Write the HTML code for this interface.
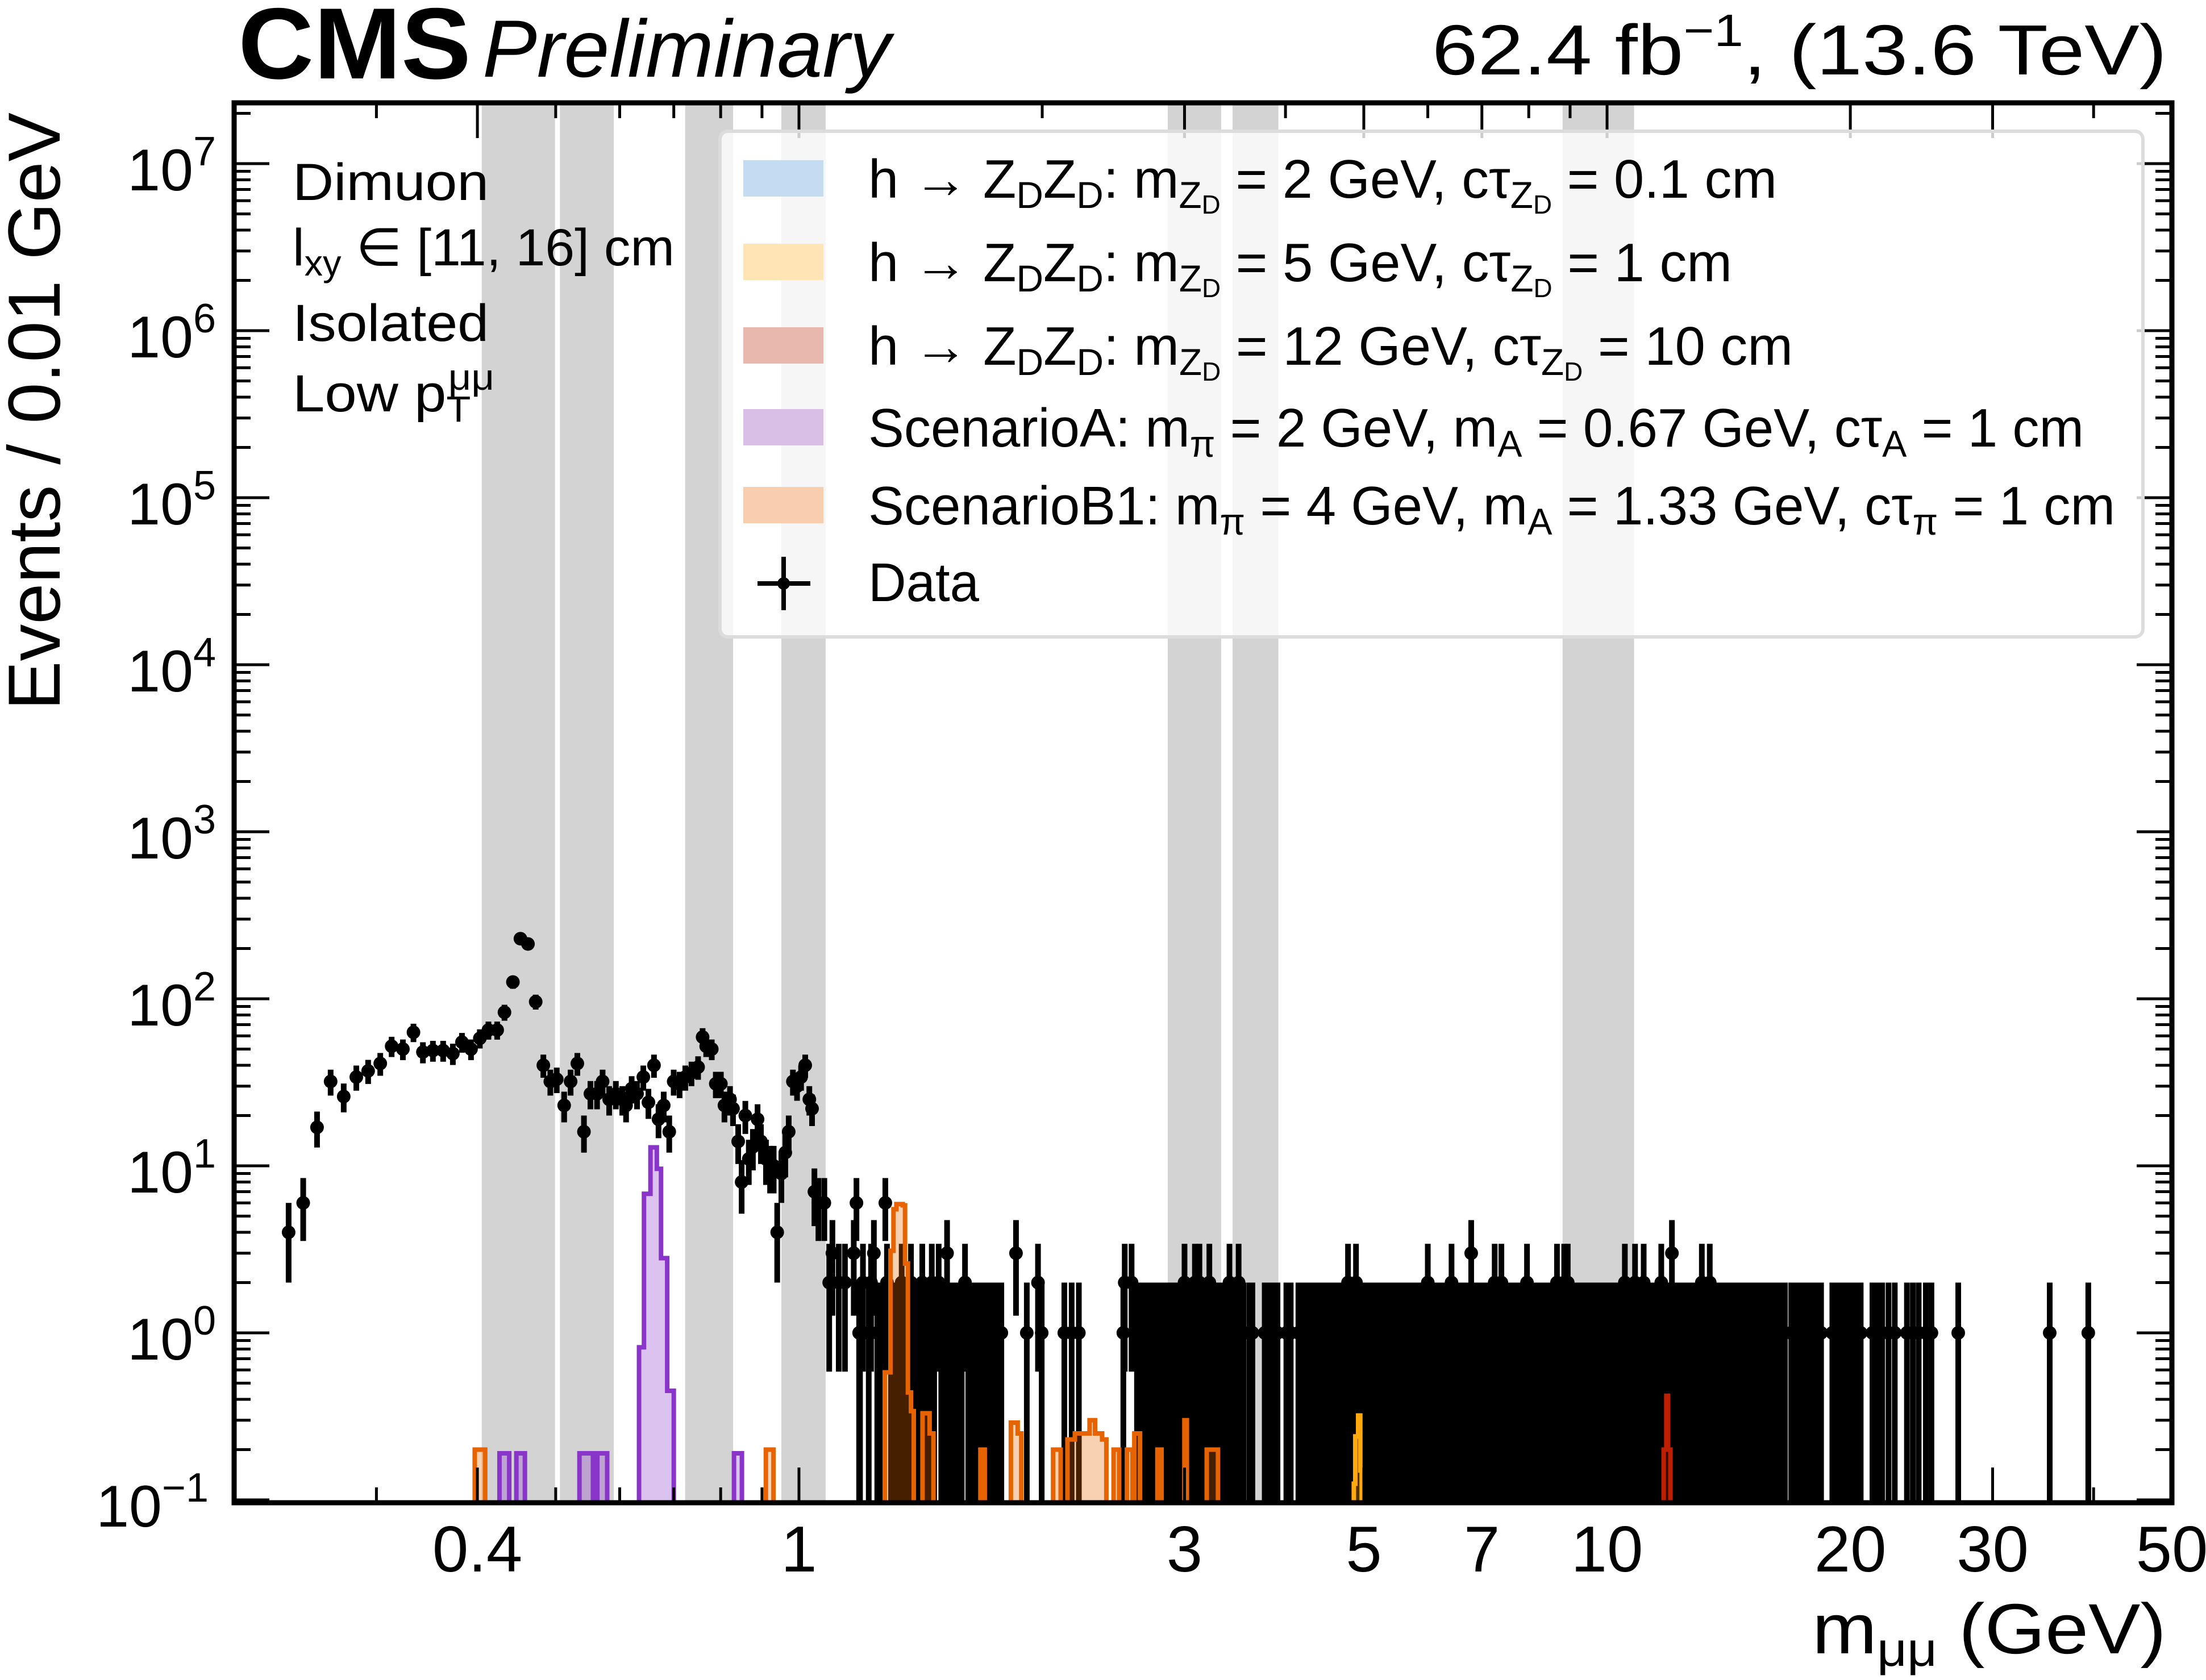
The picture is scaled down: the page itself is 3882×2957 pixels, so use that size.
<!DOCTYPE html>
<html><head><meta charset="utf-8"><title>CMS dimuon mass</title>
<style>
html,body{margin:0;padding:0;background:#fff;}
svg{display:block;font-family:"Liberation Sans",sans-serif;}
</style></head>
<body>
<svg id="chart" width="3882" height="2957" viewBox="0 0 3882 2957" xmlns="http://www.w3.org/2000/svg">
<g id="bands"></g>
<g id="datag"></g>
<g id="sigg"></g>
<g id="ticks"></g>
<rect x="412" y="181" width="3410" height="2464" fill="none" stroke="#000" stroke-width="9"/>

<g>
<rect x="1267" y="231" width="2504" height="890" rx="14" fill="rgba(255,255,255,0.8)" stroke="#dcdcdc" stroke-width="6"/>
<g>
<rect x="1308" y="282" width="141" height="64" fill="#c4dbf2"/>
<text x="1528" y="348" font-size="96" textLength="1599" lengthAdjust="spacingAndGlyphs">h → Z<tspan dy="18" font-size="66">D</tspan><tspan dy="-18">Z</tspan><tspan dy="18" font-size="66">D</tspan><tspan dy="-18">: m</tspan><tspan dy="18" font-size="66">Z</tspan><tspan dy="10" font-size="46">D</tspan><tspan dy="-28"> = 2 GeV, cτ</tspan><tspan dy="18" font-size="66">Z</tspan><tspan dy="10" font-size="46">D</tspan><tspan dy="-28"> =  0.1 cm</tspan></text>
</g>
<g>
<rect x="1308" y="429" width="141" height="64" fill="#ffe5b5"/>
<text x="1528" y="495" font-size="96" textLength="1520" lengthAdjust="spacingAndGlyphs">h → Z<tspan dy="18" font-size="66">D</tspan><tspan dy="-18">Z</tspan><tspan dy="18" font-size="66">D</tspan><tspan dy="-18">: m</tspan><tspan dy="18" font-size="66">Z</tspan><tspan dy="10" font-size="46">D</tspan><tspan dy="-28"> = 5 GeV, cτ</tspan><tspan dy="18" font-size="66">Z</tspan><tspan dy="10" font-size="46">D</tspan><tspan dy="-28"> =  1 cm</tspan></text>
</g>
<g>
<rect x="1308" y="576" width="141" height="64" fill="#e8b8ae"/>
<text x="1528" y="642" font-size="96" textLength="1627" lengthAdjust="spacingAndGlyphs">h → Z<tspan dy="18" font-size="66">D</tspan><tspan dy="-18">Z</tspan><tspan dy="18" font-size="66">D</tspan><tspan dy="-18">: m</tspan><tspan dy="18" font-size="66">Z</tspan><tspan dy="10" font-size="46">D</tspan><tspan dy="-28"> = 12 GeV, cτ</tspan><tspan dy="18" font-size="66">Z</tspan><tspan dy="10" font-size="46">D</tspan><tspan dy="-28"> =  10 cm</tspan></text>
</g>
<g>
<rect x="1308" y="720" width="141" height="64" fill="#d9bfe6"/>
<text x="1528" y="786" font-size="96" textLength="2139" lengthAdjust="spacingAndGlyphs">ScenarioA: m<tspan dy="18" font-size="66">π</tspan><tspan dy="-18"> = 2 GeV, m</tspan><tspan dy="18" font-size="66">A</tspan><tspan dy="-18"> = 0.67 GeV, cτ</tspan><tspan dy="18" font-size="66">A</tspan><tspan dy="-18"> =  1 cm</tspan></text>
</g>
<g>
<rect x="1308" y="857" width="141" height="64" fill="#f8cdb0"/>
<text x="1528" y="923" font-size="96" textLength="2194" lengthAdjust="spacingAndGlyphs">ScenarioB1: m<tspan dy="18" font-size="66">π</tspan><tspan dy="-18"> = 4 GeV, m</tspan><tspan dy="18" font-size="66">A</tspan><tspan dy="-18"> = 1.33 GeV, cτ</tspan><tspan dy="18" font-size="66">π</tspan><tspan dy="-18"> =  1 cm</tspan></text>
</g>
<g>
<line x1="1333" y1="1027" x2="1426" y2="1027" stroke="#000" stroke-width="8"/>
<line x1="1379" y1="980" x2="1379" y2="1074" stroke="#000" stroke-width="8"/>
<circle cx="1379" cy="1027" r="11" fill="#000"/>
<text x="1528" y="1058" font-size="96" textLength="195" lengthAdjust="spacingAndGlyphs">Data</text>
</g>
</g>

<g font-size="92">
<text x="515" y="352" textLength="345" lengthAdjust="spacingAndGlyphs">Dimuon</text>
<text x="515" y="467" textLength="672" lengthAdjust="spacingAndGlyphs">l<tspan dy="18" font-size="64">xy</tspan><tspan dy="-18"> ∈ [11, 16] cm</tspan></text>
<text x="515" y="600" textLength="345" lengthAdjust="spacingAndGlyphs">Isolated</text>
<text x="515" y="724" textLength="355" lengthAdjust="spacingAndGlyphs">Low p<tspan dy="18" font-size="64">T</tspan><tspan dx="-36" dy="-56" font-size="64">μμ</tspan></text>
</g>

<text x="419" y="138" font-size="178" font-weight="bold" textLength="410" lengthAdjust="spacingAndGlyphs">CMS</text>
<text x="849" y="135" font-size="143" font-style="italic" textLength="718" lengthAdjust="spacingAndGlyphs">Preliminary</text>
<text x="2520" y="131" font-size="125" textLength="1293" lengthAdjust="spacingAndGlyphs">62.4 fb<tspan dy="-50" font-size="80">−1</tspan><tspan dy="50">,  (13.6 TeV)</tspan></text>
<text transform="rotate(-90)" x="-724" y="105" font-size="130" text-anchor="middle" textLength="1052" lengthAdjust="spacingAndGlyphs">Events / 0.01 GeV</text>
<text x="3189" y="2910" font-size="125" textLength="623" lengthAdjust="spacingAndGlyphs">m<tspan dy="22" font-size="84">μμ</tspan><tspan dy="-22"> (GeV)</tspan></text>
<g id="labels"></g>
</svg>

<script>
const bandLo = [0.405, 0.506, 0.723, 0.951, 2.86, 3.44, 8.81];
const bandHi = [0.499, 0.590, 0.829, 1.079, 3.33, 3.92, 10.8];

const dataMass = [
0.2336,0.2435,0.2533,0.2633,0.2733,0.2833,0.293,0.3033,0.3133,0.3235,0.3334,0.3425,0.3524,0.3628,0.373,0.3828,0.3928,0.4028,0.4128,0.4232,
0.4321,0.4426,0.4522,0.462,0.4723,0.4827,0.4924,0.5015,0.5122,0.5217,0.5318,0.5419,0.552,0.5625,0.5715,0.5823,0.5935,0.6044,0.611,0.6208,
0.6304,0.6418,0.6512,0.6616,0.6702,0.6802,0.691,0.6998,0.7117,0.7233,0.7362,0.7502,0.7599,0.7677,0.78,0.789,0.8005,0.8087,0.8216,0.8287,
0.841,0.8493,0.8583,0.8668,0.877,0.8887,0.8973,0.9103,0.921,0.9305,0.9399,0.9511,0.9618,0.9712,0.9829,0.9945,1.006,1.018,1.030,1.038,
1.045,1.057,1.075,1.09,1.10,1.12,1.14,1.169,1.178,1.187,1.20,1.228,1.238,1.256,1.279,1.285,1.30,1.32,1.34,1.36,
1.376,1.39,1.41,1.421,1.44,1.46,1.489,1.50,1.525,1.54,1.56,1.58,1.605,1.63,1.65,1.67,1.69,1.71,1.74,1.76,
1.78,1.856,1.914,1.976,1.997,2.13,2.175,2.22,2.52,2.53,2.58,2.62,2.66,2.70,2.72,2.75,2.78,2.81,2.84,2.88,
2.92,2.97,3.00,3.04,3.09,3.13,3.17,3.22,3.26,3.30,3.34,3.38,3.41,3.45,3.50,3.55,
3.61,3.64,3.77,3.81,3.86,3.91,4.01,4.06,4.15,4.20,4.26,4.31,4.37,4.42,4.47,4.53,4.61,4.67,4.73,4.78,
4.80,4.86,4.89,4.92,4.98,5.05,5.11,5.18,5.23,5.29,5.37,5.43,5.50,5.57,5.63,5.70,5.77,5.84,5.91,5.98,
6.0,6.10,6.18,6.26,6.34,6.42,6.50,6.58,6.67,6.76,6.79,6.85,6.95,7.04,7.14,7.20,7.26,7.29,7.39,7.4,
7.48,7.58,7.70,7.82,7.92,7.96,8.03,8.13,8.24,8.35,8.46,8.57,8.67,8.68,8.80,8.85,8.91,8.94,9.03,9.15,
9.27,9.40,9.52,9.65,9.77,9.86,9.99,10.1,10.25,10.4,10.52,10.5,10.65,10.8,10.83,10.9,11.05,11.1,11.2,11.35,
11.5,11.65,11.67,11.8,11.95,12.03,12.1,12.25,12.4,12.45,12.6,12.8,12.95,13.1,13.3,13.4,13.45,13.65,13.8,14.0,
14.2,14.35,14.55,14.75,14.95,15.15,15.3,15.4,15.6,15.8,16.0,16.15,16.35,16.6,16.9,17.1,17.3,17.5,17.6,17.8,
18.0,18.2,18.4,19.0,19.2,19.5,19.8,20.0,20.3,20.6,21.3,21.6,21.9,22.3,22.7,23.5,23.9,24.3,24.8,25.2,
27.2,35.3,39.4];
const dataCount = [
4,6,17,32,26,34,37,41,52,50,63,48,49,49,47,55,50,58,65,65,
83,126,229,213,96,40,32,33,23,32,41,16,27,27,32,25,27,25,23,29,
27,34,24,40,19,23,16,32,31,34,36,39,59,52,50,31,31,23,25,22,
14,8,20,11,13,19,14,11,10,10,4,9,12,16,32,30,34,40,25,22,
7,6,6,2,3,2,2,3,6,1,2,2,3,1,6,2,1,1,2,1,
2,1,1,2,1,2,2,1,3,1,1,1,2,1,1,1,1,1,1,1,
1,3,1,2,1,1,1,1,1,2,2,1,1,1,1,1,1,1,1,1,
1,1,2,1,2,2,1,2,1,1,1,1,2,1,2,1,
1,1,1,1,1,1,1,1,1,1,1,1,1,1,1,1,1,1,1,2,
1,1,2,1,1,1,1,1,1,1,1,1,1,1,1,1,1,1,1,1,
2,1,1,1,1,2,1,1,1,1,3,1,1,1,1,1,2,1,1,2,
1,1,1,1,1,2,1,1,1,1,1,1,2,1,1,2,1,2,1,1,
1,1,1,1,1,1,1,1,1,1,2,1,1,1,2,1,1,2,1,1,
1,1,2,1,1,3,1,1,1,1,1,1,1,2,1,2,1,1,1,1,
1,1,1,1,1,1,1,1,1,1,1,1,1,1,1,1,1,1,1,1,
1,1,1,1,1,1,1,1,1,1,1,1,1,1,1,1,1,1,1,1,
1,1,1];

// additional single-event bins in the dense region (count = 1 each)
const singleMass = [
1.19,1.22,1.25,1.27,1.31,1.33,1.35,1.38,1.40,1.43,1.45,1.47,1.52,1.55,1.57,1.59,1.62,1.64,1.66,1.68,1.70,1.72,1.75,1.77,
2.64,2.68,2.74,2.77,2.80,2.86,2.90,2.95,2.99,3.02,3.07,3.11,3.15,3.20,3.24,3.28,3.32,3.36,3.43,3.48,3.53,
3.63,3.79,3.84,3.88,4.04,4.17,4.23,4.28,4.34,4.40,4.45,4.50,4.56,
4.64,4.70,4.76,4.83,4.95,5.02,5.08,5.14,5.20,5.33,5.40,5.46,5.53,5.60,5.66,5.73,5.80,5.87,5.94,6.05,6.14,6.22,6.30,6.38,6.46,6.54,6.62,6.71,
6.90,7.00,7.09,7.34,7.44,7.53,7.64,7.76,7.87,7.98,8.08,8.19,8.30,8.41,8.52,8.62,8.74,8.97,9.09,9.21,9.33,9.46,9.58,9.71,9.92,10.05,10.18,10.33,
10.6,10.72,10.97,11.13,11.28,11.43,11.58,11.73,11.88,12.18,12.33,12.53,12.7,12.88,13.03,13.2,13.55,13.72,13.9,14.1,14.28,14.45,14.65,14.85,15.05];

const sigALo = [0.426,0.447,0.535,0.546,0.563,0.634,0.643,0.655,0.667,0.675,0.687,0.831];
const sigAHi = [0.438,0.458,0.546,0.556,0.579,0.643,0.655,0.667,0.675,0.687,0.700,0.850];
const sigAVal = [0.19,0.19,0.19,0.19,0.19,0.82,6.8,12.9,9.6,2.8,0.45,0.19];

const sigBLo = [0.397,0.910,1.277,1.298,1.309,1.320,1.344,1.353,1.364,1.376,1.422,1.451,1.677,1.829,1.865,2.063,2.149,2.195,2.289,2.325,2.372,2.451,2.546,2.600,2.777,2.999,3.196];
const sigBHi = [0.409,0.930,1.298,1.309,1.320,1.344,1.353,1.364,1.376,1.387,1.451,1.467,1.698,1.865,1.884,2.108,2.195,2.289,2.325,2.372,2.401,2.490,2.587,2.643,2.810,3.020,3.300];
const sigBVal = [0.2,0.2,0.58,3.1,5.5,5.9,5.8,2.6,0.44,0.34,0.33,0.25,0.2,0.29,0.25,0.2,0.23,0.25,0.3,0.25,0.23,0.2,0.2,0.25,0.2,0.3,0.2];

const sigZ5Lo = [4.86,4.88,4.92,4.95];
const sigZ5Hi = [4.88,4.92,4.95,4.97];
const sigZ5Val = [0.125,0.24,0.32,0.15];

const sigZ12Lo = [11.75,11.84,11.90];
const sigZ12Hi = [11.84,11.90,11.98];
const sigZ12Val = [0.2,0.42,0.2];

const xTickLabels = ["0.4","1","3","5","7","10","20","30","50"];
const xTickValues = [0.4,1,3,5,7,10,20,30,50];
const yTickExp = [-1,0,1,2,3,4,5,6,7];

const X0=412, X1=3822, XMIN=0.2, XMAX=50;
const YB=2645, YT=181, DEC=294;
function sx(m){return X0+(X1-X0)*(Math.log10(m)-Math.log10(XMIN))/(Math.log10(XMAX)-Math.log10(XMIN));}
function sy(v){return 2640-DEC*(Math.log10(v)+1);}
function cy(y){return Math.max(YT,Math.min(YB,y));}
const NS="http://www.w3.org/2000/svg";
function mk(tag,attrs,parent){const e=document.createElementNS(NS,tag);for(const k in attrs)e.setAttribute(k,attrs[k]);parent.appendChild(e);return e;}

const bandsG=document.getElementById('bands');
for(let i=0;i<bandLo.length;i++){
  const r=mk('rect',{x:sx(bandLo[i]),y:YT,width:sx(bandHi[i])-sx(bandLo[i]),height:YB-YT,fill:'#d3d3d3'},bandsG);
  
  
}

const dg=document.getElementById('datag');
function drawPoint(m,n){
  const x=sx(m), e=Math.sqrt(n);
  const top=cy(sy(n+e)); const bot=(n-e)>0?cy(sy(n-e)):YB;
  const g=mk('g',{},dg);
  
  
  mk('line',{x1:x,x2:x,y1:top,y2:bot,stroke:'#000','stroke-width':10},g);
  mk('circle',{cx:x,cy:sy(n),r:12,fill:'#000'},g);
}
for(let i=0;i<dataMass.length;i++) drawPoint(dataMass[i],dataCount[i]);
for(let i=0;i<singleMass.length;i++) drawPoint(singleMass[i],1);

const sg=document.getElementById('sigg');
function drawHist(lo,hi,val,stroke,fill,name){
  const g=mk('g',{},sg);
  
  
  let i=0;
  while(i<lo.length){
    let j=i; while(j+1<lo.length && Math.abs(lo[j+1]-hi[j])<1e-6) j++;
    let d='M'+sx(lo[i])+','+YB;
    for(let k=i;k<=j;k++){const y=cy(sy(val[k]));d+=' L'+sx(lo[k])+','+y+' L'+sx(hi[k])+','+y;}
    d+=' L'+sx(hi[j])+','+YB+' Z';
    mk('path',{d:d,fill:fill,stroke:stroke,'stroke-width':8,'stroke-linejoin':'miter'},g);
    i=j+1;
  }
}
drawHist(sigBLo,sigBHi,sigBVal,'#e76300','rgba(231,99,0,0.3)','histogram-scenario-b1');
drawHist(sigALo,sigAHi,sigAVal,'#8a35c9','rgba(138,53,201,0.3)','histogram-scenario-a');
drawHist(sigZ5Lo,sigZ5Hi,sigZ5Val,'#ffa90e','rgba(255,169,14,0.3)','histogram-zd-5gev');
drawHist(sigZ12Lo,sigZ12Hi,sigZ12Val,'#bd1f01','rgba(189,31,1,0.3)','histogram-zd-12gev');

const tg=document.getElementById('ticks');
function tick(x1,y1,x2,y2){mk('line',{x1:x1,y1:y1,x2:x2,y2:y2,stroke:'#000','stroke-width':5},tg);}
const minorX=[0.2,0.3,0.5,0.6,0.7,0.8,0.9,2,4,6,8,9,40];
minorX.forEach(m=>{const x=sx(m);tick(x,YB,x,YB-27);tick(x,YT,x,YT+27);});
xTickValues.forEach(m=>{const x=sx(m);tick(x,YB,x,YB-62);tick(x,YT,x,YT+62);});
for(let d=-1;d<=7;d++){
  const y=sy(Math.pow(10,d));
  tick(X0,y,X0+62,y);tick(X1,y,X1-62,y);
  for(let k=2;k<=9;k++){const yy=sy(k*Math.pow(10,d)); if(yy<YT)continue; tick(X0,yy,X0+29,yy);tick(X1,yy,X1-29,yy);}
}

const lg=document.getElementById('labels');
xTickValues.forEach((m,i)=>{
  const t=mk('text',{x:sx(m),y:2766,'font-size':114,'text-anchor':'middle'},lg);
  
  
  t.textContent=xTickLabels[i];
});
yTickExp.forEach(d=>{
  const y=sy(Math.pow(10,d));
  const t=mk('text',{x:(d<0?367:380),y:y+47,'font-size':104,'text-anchor':'end'},lg);
  
  
  const a=mk('tspan',{},t);a.textContent='10';
  const b=mk('tspan',{dy:-44,'font-size':72},t);b.textContent=(d<0?'−':'')+Math.abs(d);
});
</script>
</body></html>
